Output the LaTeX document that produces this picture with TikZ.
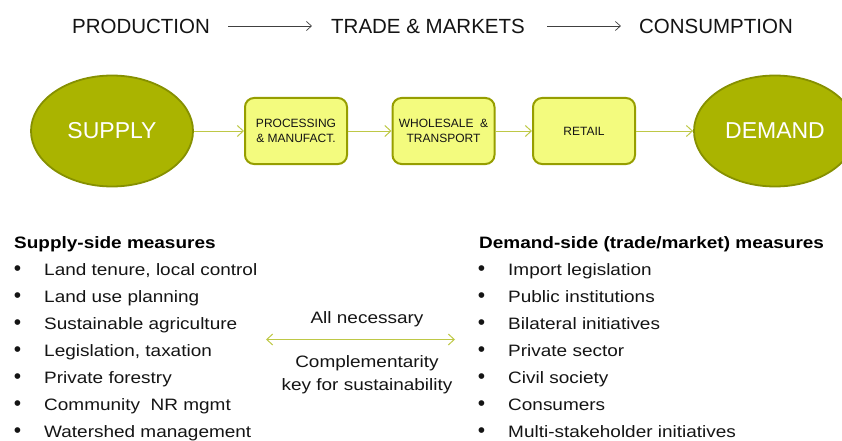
\documentclass[tikz,border=0pt]{standalone}
\usepackage{fontspec}
\setmainfont{Liberation Sans}
\newfontfamily\bodyfont[FakeStretch=1.15]{Liberation Sans}
\usetikzlibrary{shapes.geometric,arrows.meta}
\definecolor{olivefill}{RGB}{170,180,0}
\definecolor{olivedark}{RGB}{134,144,0}
\definecolor{boxfill}{RGB}{243,251,126}
\definecolor{boxline}{RGB}{150,158,0}
\definecolor{arrowol}{RGB}{190,200,70}
\definecolor{txt}{RGB}{20,20,20}
\tikzset{
  bigoval/.style={ellipse,draw=olivedark,line width=1.8pt,fill=olivefill,
    minimum width=162pt,minimum height=111pt,inner sep=0pt,
    text=white,font=\fontsize{23}{26}\selectfont},
  stagebox/.style={rectangle,rounded corners=9pt,draw=boxline,line width=2pt,
    fill=boxfill,minimum width=102pt,minimum height=66pt,inner sep=0pt,
    align=center,text=txt,font=\fontsize{12}{15}\selectfont},
  flowarrow/.style={draw=arrowol,line width=1pt,-{Straight Barb[length=6pt,width=11pt]}},
  headtxt/.style={anchor=base,inner sep=0pt,text=txt,font=\fontsize{20.5}{24}\selectfont},
  headarrow/.style={draw=black!75,line width=0.7pt,-{Straight Barb[length=5pt,width=9pt]}},
  listhead/.style={anchor=base west,inner sep=0pt,text=black,font=\bodyfont\bfseries\fontsize{16.5}{19}\selectfont},
  listitem/.style={anchor=base west,inner sep=0pt,text=txt,font=\bodyfont\fontsize{16.5}{19}\selectfont},
  bul/.style={anchor=base,inner sep=0pt,text=txt,font=\fontsize{21}{24}\selectfont},
  midtxt/.style={anchor=base,inner sep=0pt,text=txt,font=\bodyfont\fontsize{16.5}{19}\selectfont},
}
\begin{document}
\begin{tikzpicture}[x=1pt,y=-1pt]
\useasboundingbox (0,0) rectangle (842,441);
% header
\node[headtxt] (prod) at (141,34) {PRODUCTION};
\node[headtxt] (trade) at (428,34) {TRADE \& MARKETS};
\node[headtxt] (cons) at (716,34) {CONSUMPTION};
\draw[headarrow] ([xshift=18pt,yshift=8pt]prod.base east) -- ([xshift=-19pt,yshift=8pt]trade.base west);
\draw[headarrow] ([xshift=22pt,yshift=8pt]trade.base east) -- ([xshift=-18pt,yshift=8pt]cons.base west);
% chain
\node[bigoval] (supply) at (112,131) {SUPPLY};
\node[stagebox] (proc) at (296,131) {PROCESSING\\\& MANUFACT.};
\node[stagebox] (whole) at (443.5,131) {WHOLESALE \ \&\\TRANSPORT};
\node[stagebox] (retail) at (584,131) {RETAIL};
\node[bigoval] (demand) at (775,131) {DEMAND};
\draw[flowarrow] (supply.east) -- (proc.west);
\draw[flowarrow] (proc.east) -- (whole.west);
\draw[flowarrow] (whole.east) -- (retail.west);
\draw[flowarrow] (retail.east) -- (demand.west);
% supply list
\node[listhead] (sh) at (14,248.5) {Supply-side measures};
\foreach \t [count=\i] in {{Land tenure, local control},Land use planning,Sustainable agriculture,{Legislation, taxation},Private forestry,Community\ \ NR mgmt,Watershed management}{
  \node[bul] (sb\i) at (17.5,248.5+27.05*\i) {•};
  \node[listitem] (si\i) at (44,248.5+27.05*\i) {\t};
}
% demand list
\node[listhead] (dh) at (479,248.5) {Demand-side (trade/market) measures};
\foreach \t [count=\i] in {Import legislation,Public institutions,Bilateral initiatives,Private sector,Civil society,Consumers,Multi-stakeholder initiatives}{
  \node[bul] (db\i) at (481.5,248.5+27.05*\i) {•};
  \node[listitem] (di\i) at (508,248.5+27.05*\i) {\t};
}
% middle
\node[midtxt] (alln) at (367,323.5) {All necessary};
\coordinate (la) at (266,339.5);
\coordinate (ra) at (455,339.5);
\draw[draw=arrowol,line width=1pt,{Straight Barb[length=6pt,width=11pt]}-{Straight Barb[length=6pt,width=11pt]}] (la) -- (ra);
\node[midtxt] (comp) at (367,367) {Complementarity};
\node[midtxt] (key) at (367,390) {key for sustainability};
\end{tikzpicture}
\end{document}
